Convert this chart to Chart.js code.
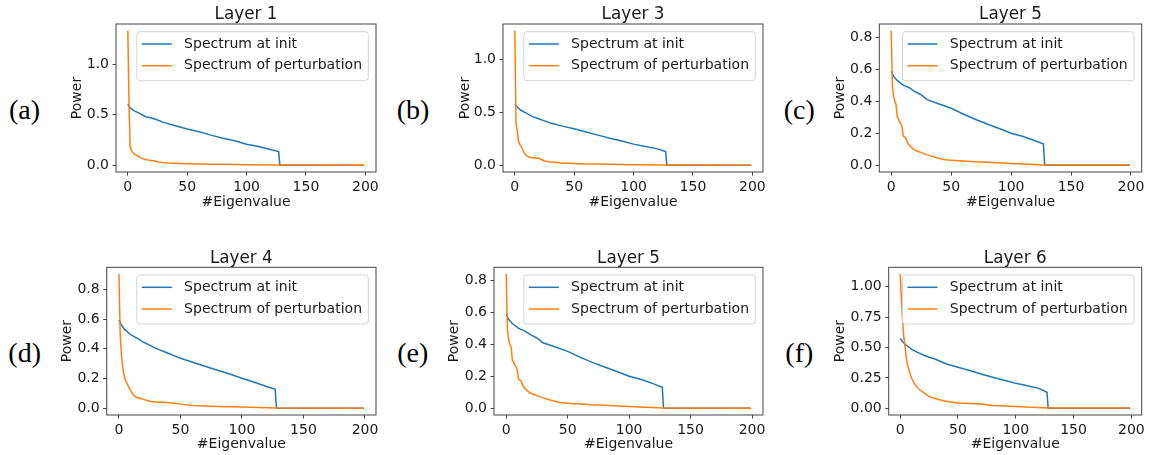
<!DOCTYPE html>
<html>
<head>
<meta charset="utf-8">
<script src="https://cdn.jsdelivr.net/npm/chart.js@4.4.1/dist/chart.umd.min.js"></script>
<style>
  html, body { margin: 0; padding: 0; background: #fff; overflow: hidden; }
  #fig { position: relative; width: 1149px; height: 455px; overflow: hidden; background: #fff; }
  #fig canvas { position: absolute; }
  .tag {
    position: absolute; font-family: 'Liberation Serif', 'DejaVu Serif', serif;
    font-size: 28px; line-height: 28px; color: #000; white-space: nowrap;
    transform: translate(-50%, -50%);
  }
</style>
</head>
<body>
<div id="fig"></div>
<script>
// Eigenvalue indices at which each spectrum is sampled
const initIndex = [0, 2, 5, 10, 15, 20, 25, 30, 40, 50, 60, 70, 80, 90, 100, 110, 120, 127, 128, 199];
const pertIndex = [0, 1, 2, 3, 4, 5, 6, 7, 8, 9, 10, 12, 14, 17, 20, 25, 30, 35, 40, 45, 50, 60, 70, 80, 100, 128, 199];

// Spectrum at init (power per eigenvalue)
const layer1Init = [0.603, 0.567, 0.54, 0.513, 0.48, 0.467, 0.447, 0.424, 0.39, 0.358, 0.331, 0.298, 0.268, 0.242, 0.208, 0.185, 0.155, 0.135, 0, 0];
const layer3Init = [0.58, 0.55, 0.52, 0.49, 0.46, 0.44, 0.42, 0.40, 0.37, 0.345, 0.315, 0.285, 0.255, 0.23, 0.20, 0.178, 0.155, 0.13, 0, 0];
const layer5Init = [0.588, 0.555, 0.53, 0.50, 0.484, 0.459, 0.44, 0.41, 0.383, 0.356, 0.32, 0.287, 0.258, 0.23, 0.20, 0.18, 0.153, 0.132, 0, 0];
const layer4Init = [0.594, 0.56, 0.527, 0.493, 0.47, 0.444, 0.425, 0.403, 0.37, 0.336, 0.31, 0.283, 0.256, 0.23, 0.202, 0.175, 0.146, 0.128, 0, 0];
const layer6Init = [0.575, 0.55, 0.52, 0.485, 0.46, 0.438, 0.42, 0.405, 0.364, 0.337, 0.31, 0.282, 0.255, 0.23, 0.205, 0.185, 0.164, 0.131, 0, 0];

// Spectrum of perturbation (power per eigenvalue)
const layer1Pert = [1.33, 0.6, 0.18, 0.15, 0.13, 0.115, 0.105, 0.1, 0.095, 0.088, 0.078, 0.068, 0.06, 0.052, 0.048, 0.035, 0.026, 0.022, 0.02, 0.018, 0.016, 0.013, 0.011, 0.009, 0.006, 0.002, 0.001];
const layer3Pert = [1.272, 0.40, 0.33, 0.23, 0.205, 0.18, 0.165, 0.14, 0.115, 0.10, 0.092, 0.078, 0.072, 0.07, 0.066, 0.04, 0.032, 0.028, 0.02, 0.018, 0.016, 0.013, 0.011, 0.009, 0.006, 0.002, 0.001];
const layer5Pert = [0.84, 0.49, 0.43, 0.40, 0.38, 0.30, 0.29, 0.27, 0.26, 0.24, 0.184, 0.17, 0.136, 0.11, 0.094, 0.079, 0.065, 0.054, 0.042, 0.034, 0.032, 0.027, 0.022, 0.019, 0.011, 0.002, 0.001];
const layer4Pert = [0.903, 0.5, 0.36, 0.28, 0.23, 0.195, 0.175, 0.16, 0.14, 0.125, 0.11, 0.088, 0.074, 0.068, 0.06, 0.047, 0.042, 0.04, 0.037, 0.034, 0.028, 0.018, 0.015, 0.012, 0.008, 0.002, 0.001];
const layer6Pert = [1.104, 0.9, 0.73, 0.6, 0.52, 0.44, 0.37, 0.33, 0.30, 0.27, 0.245, 0.21, 0.18, 0.15, 0.13, 0.096, 0.08, 0.068, 0.058, 0.05, 0.043, 0.039, 0.036, 0.022, 0.014, 0.003, 0.002];

// Tick values
const xTicks = [0, 50, 100, 150, 200];
const yTicksHalf = [0, 0.5, 1.0];
const yTicksFifth = [0, 0.2, 0.4, 0.6, 0.8];
const yTicksQuarter = [0, 0.25, 0.5, 0.75, 1.0];

// Text
const seriesNames = ['Spectrum at init', 'Spectrum of perturbation'];
const panelTags = ['(a)', '(b)', '(c)', '(d)', '(e)', '(f)'];
const panelTitles = ['Layer 1', 'Layer 3', 'Layer 5', 'Layer 4', 'Layer 5', 'Layer 6'];
const xAxisTitle = '#Eigenvalue';
const yAxisTitle = 'Power';

const BLUE = '#1f77b4';
const ORANGE = '#ff7f0e';
const SPINE = '#444444';
const INK = '#1a1a1a';
const FONT = "'DejaVu Sans', 'Liberation Sans', sans-serif";

Chart.defaults.font.family = FONT;
Chart.defaults.color = INK;

// Panel geometry: plot box, y-title centre, title centre, x-title centre, tag centre
const panels = [
  { init: layer1Init, pert: layer1Pert, yTicks: yTicksHalf,    dec: 1, box: { l: 116,   t: 24,    r: 376,    b: 172 }, powerX: 77.75, titleY: 14.6,  xlabelY: 202.7, tag: [24.5, 110] },
  { init: layer3Init, pert: layer3Pert, yTicks: yTicksHalf,    dec: 1, box: { l: 503,   t: 24,    r: 763,    b: 172 }, powerX: 465,   titleY: 14.6,  xlabelY: 202.7, tag: [413, 110] },
  { init: layer5Init, pert: layer5Pert, yTicks: yTicksFifth,   dec: 1, box: { l: 879.3, t: 24,    r: 1141.7, b: 172 }, powerX: 840.4, titleY: 14.6,  xlabelY: 202.7, tag: [799.3, 110] },
  { init: layer4Init, pert: layer4Pert, yTicks: yTicksFifth,   dec: 1, box: { l: 106.7, t: 267.3, r: 376,    b: 415 }, powerX: 67,    titleY: 258.9, xlabelY: 444.3, tag: [24.7, 353] },
  { init: layer5Init, pert: layer5Pert, yTicks: yTicksFifth,   dec: 1, box: { l: 494,   t: 267.3, r: 763,    b: 415 }, powerX: 454.7, titleY: 258.9, xlabelY: 444.3, tag: [412.7, 353] },
  { init: layer6Init, pert: layer6Pert, yTicks: yTicksQuarter, dec: 2, box: { l: 888.7, t: 267.3, r: 1141.7, b: 415 }, powerX: 840.4, titleY: 258.9, xlabelY: 444.3, tag: [799.3, 353] }
];

const TITLE_SIZE = 16.8;
const LABEL_SIZE = 14;

function toPoints(xs, ys) {
  return xs.map((x, i) => ({ x: x, y: ys[i] }));
}

// Full rectangular frame round the plot area
const framePlugin = {
  id: 'frame',
  afterDatasetsDraw(chart) {
    const { ctx, chartArea: a } = chart;
    ctx.save();
    ctx.strokeStyle = SPINE;
    ctx.lineWidth = 1;
    ctx.strokeRect(a.left, a.top, a.right - a.left, a.bottom - a.top);
    ctx.restore();
  }
};

// Legend box drawn inside the upper-right corner of the plot area
const innerLegendPlugin = {
  id: 'innerLegend',
  afterDraw(chart) {
    const { ctx, chartArea: a } = chart;
    const sets = chart.data.datasets;
    ctx.save();
    ctx.font = LABEL_SIZE + 'px ' + FONT;
    let textW = 0;
    sets.forEach(d => { textW = Math.max(textW, ctx.measureText(d.label).width); });
    const padL = 5, sample = 30, gap = 12.3, padR = 6.3;
    const w = padL + sample + gap + textW + padR;
    const h = 49;
    const right = a.right - 7.7;
    const left = right - w;
    const top = a.top + 7.7;
    ctx.beginPath();
    ctx.roundRect(left, top, w, h, 3);
    ctx.fillStyle = 'rgba(255,255,255,0.8)';
    ctx.fill();
    ctx.strokeStyle = '#d4d4d4';
    ctx.lineWidth = 1;
    ctx.stroke();
    const rows = [12.3, 34];
    sets.forEach((d, i) => {
      const y = top + rows[i];
      ctx.beginPath();
      ctx.moveTo(left + padL, y);
      ctx.lineTo(left + padL + sample, y);
      ctx.strokeStyle = d.borderColor;
      ctx.lineWidth = 1.5;
      ctx.stroke();
      ctx.fillStyle = INK;
      ctx.textAlign = 'left';
      ctx.textBaseline = 'middle';
      ctx.fillText(d.label, left + padL + sample + gap, y);
    });
    ctx.restore();
  }
};

const fig = document.getElementById('fig');

panels.forEach((p, k) => {
  const box = p.box;
  const canvasL = Math.floor(p.powerX - LABEL_SIZE * 0.6 - 1);
  const canvasT = Math.floor(p.titleY - TITLE_SIZE / 2 - 2);
  const canvasR = Math.ceil(box.r + 12);
  const canvasB = Math.ceil(p.xlabelY + LABEL_SIZE * 0.6);
  const W = canvasR - canvasL;
  const H = canvasB - canvasT;

  const cv = document.createElement('canvas');
  cv.width = W; cv.height = H;
  cv.style.left = canvasL + 'px';
  cv.style.top = canvasT + 'px';
  cv.style.width = W + 'px';
  cv.style.height = H + 'px';
  fig.appendChild(cv);

  const yAxisW = box.l - canvasL;
  const xAxisH = canvasB - box.b;
  const yTitlePad = p.powerX - LABEL_SIZE * 0.6 - canvasL;
  const xTitlePad = canvasB - LABEL_SIZE * 0.6 - p.xlabelY;
  const titlePadTop = p.titleY - TITLE_SIZE / 2 - canvasT;
  const titlePadBottom = Math.max(0, box.t - canvasT - titlePadTop - TITLE_SIZE);

  // axis limits with 5% margins either side of the data
  const xMin = Math.min(...initIndex, ...pertIndex);
  const xMax = Math.max(...initIndex, ...pertIndex);
  const yMin = Math.min(...p.init, ...p.pert);
  const yMax = Math.max(...p.init, ...p.pert);
  const xm = 0.05 * (xMax - xMin);
  const ym = 0.05 * (yMax - yMin);

  const tick = { size: LABEL_SIZE, family: FONT };

  new Chart(cv, {
    type: 'line',
    data: {
      datasets: [
        { label: seriesNames[0], data: toPoints(initIndex, p.init), borderColor: BLUE, backgroundColor: BLUE,
          borderWidth: 1.5, pointRadius: 0, tension: 0, order: 1 },
        { label: seriesNames[1], data: toPoints(pertIndex, p.pert), borderColor: ORANGE, backgroundColor: ORANGE,
          borderWidth: 1.5, pointRadius: 0, tension: 0, order: 0 }
      ]
    },
    options: {
      responsive: false,
      animation: false,
      devicePixelRatio: 1,
      events: [],
      layout: { autoPadding: false, padding: { left: 0, top: 0, right: canvasR - box.r, bottom: 0 } },
      plugins: {
        legend: { display: false },
        tooltip: { enabled: false },
        title: {
          display: true, text: panelTitles[k], fullSize: false, color: INK,
          font: { size: TITLE_SIZE, family: FONT, weight: 'normal', lineHeight: 1 },
          padding: { top: titlePadTop, bottom: titlePadBottom }
        }
      },
      scales: {
        x: {
          type: 'linear', min: xMin - xm, max: xMax + xm,
          afterBuildTicks: (s) => { s.ticks = xTicks.map(v => ({ value: v })); },
          afterFit: (s) => { s.height = xAxisH; },
          grid: { display: true, drawOnChartArea: false, drawTicks: true, tickLength: 3.5, color: SPINE, lineWidth: 1 },
          border: { display: false },
          ticks: { autoSkip: false, maxRotation: 0, padding: 3.5, color: INK, font: tick,
                   callback: (v) => Number(v).toFixed(0) },
          title: { display: true, text: xAxisTitle, color: INK, font: { size: LABEL_SIZE, family: FONT },
                   padding: { top: 0, bottom: xTitlePad } }
        },
        y: {
          type: 'linear', min: yMin - ym, max: yMax + ym,
          afterBuildTicks: (s) => { s.ticks = p.yTicks.map(v => ({ value: v })); },
          afterFit: (s) => { s.width = yAxisW; },
          grid: { display: true, drawOnChartArea: false, drawTicks: true, tickLength: 3.5, color: SPINE, lineWidth: 1 },
          border: { display: false },
          ticks: { autoSkip: false, padding: 3.5, color: INK, font: tick,
                   callback: (v) => Number(v).toFixed(p.dec) },
          title: { display: true, text: yAxisTitle, color: INK, font: { size: LABEL_SIZE, family: FONT },
                   padding: { top: yTitlePad, bottom: 0 } }
        }
      }
    },
    plugins: [framePlugin, innerLegendPlugin]
  });

  const tag = document.createElement('div');
  tag.className = 'tag';
  tag.textContent = panelTags[k];
  tag.style.left = p.tag[0] + 'px';
  tag.style.top = p.tag[1] + 'px';
  fig.appendChild(tag);
});
</script>
</body>
</html>
